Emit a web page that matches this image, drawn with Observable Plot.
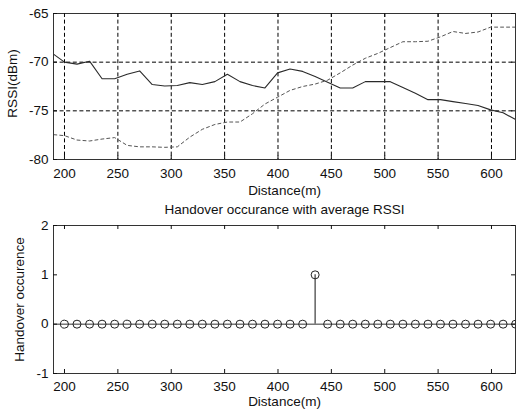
<!DOCTYPE html>
<html><head><meta charset="utf-8">
<script src="https://cdn.jsdelivr.net/npm/d3@7"></script>
<script src="https://cdn.jsdelivr.net/npm/@observablehq/plot@0.6"></script>
<style>
html,body{margin:0;padding:0;background:#fff;}
#chart svg{display:block;}
</style></head><body><div id="chart"></div>
<script>
// ---- data ----
const distance = [190, 200, 211.7, 223.5, 235.2, 247, 258.7, 270.4, 282.2, 293.9, 305.7, 317.4, 329.1, 340.9, 352.6, 364.4, 376.1, 387.8, 399.6, 411.3, 423.1, 434.8, 446.5, 458.3, 470, 481.8, 493.5, 505.2, 517, 528.7, 540.5, 552.2, 563.9, 575.7, 587.4, 599.2, 610.9, 622.6];
const rssiSolid = [-69.2, -70.0, -70.2, -69.9, -71.7, -71.7, -71.25, -70.9, -72.3, -72.45, -72.4, -72.1, -72.3, -72.0, -71.25, -72.0, -72.4, -72.65, -71.1, -70.7, -70.95, -71.47, -72.07, -72.65, -72.65, -72.0, -72.0, -72.0, -72.6, -73.2, -73.85, -73.85, -74.05, -74.25, -74.45, -74.9, -75.2, -75.9];
const rssiDashed = [-77.45, -77.55, -78.0, -78.1, -77.9, -77.75, -78.55, -78.7, -78.7, -78.75, -78.7, -77.7, -76.9, -76.4, -76.15, -76.15, -75.3, -74.3, -73.6, -72.9, -72.5, -72.25, -71.85, -71.1, -70.3, -69.6, -69.1, -68.5, -67.9, -67.9, -67.85, -67.4, -66.85, -67.05, -66.9, -66.4, -66.4, -66.4];
const stemDistance = [200, 211.7, 223.5, 235.2, 247, 258.7, 270.4, 282.2, 293.9, 305.7, 317.4, 329.1, 340.9, 352.6, 364.4, 376.1, 387.8, 399.6, 411.3, 423.1, 434.8, 446.5, 458.3, 470, 481.8, 493.5, 505.2, 517, 528.7, 540.5, 552.2, 563.9, 575.7, 587.4, 599.2, 610.9, 622.6];
const handover = [0,0,0,0,0,0,0,0,0,0,0,0,0,0,0,0,0,0,0,0,1,0,0,0,0,0,0,0,0,0,0,0,0,0,0,0,0];
const xTicks = [200, 250, 300, 350, 400, 450, 500, 550, 600];
const yTicksTop = [-80, -75, -70, -65];
const yTicksBottom = [-1, 0, 1, 2];
const xLabel = "Distance(m)";
const yLabelTop = "RSSI(dBm)";
const yLabelBottom = "Handover occurence";
const titleBottom = "Handover occurance with average RSSI";
const xDomain = [189.7, 622.5];

// ---- tables ----
const rssi = distance.map((d, i) => ({d, a: rssiSolid[i], b: rssiDashed[i]}));
const stems = stemDistance.map((d, i) => ({d, v: handover[i]}));

const W = 516;
const font = {fontFamily: "'Liberation Sans', Arial, sans-serif", fontSize: "13.5px", color: "#111", background: "#fff"};
const fmt = d => String(d);

function insideTicks(yTicks, plotW, plotH) {
  const t = 4;
  return [
    Plot.tickX(xTicks, {x: d => d, insetTop: plotH - t, stroke: "#111"}),
    Plot.tickX(xTicks, {x: d => d, insetBottom: plotH - t, stroke: "#111"}),
    Plot.tickY(yTicks, {y: d => d, insetRight: plotW - t, stroke: "#111"}),
    Plot.tickY(yTicks, {y: d => d, insetLeft: plotW - t, stroke: "#111"})
  ];
}

// ---- top chart ----
const topH = 200, topMT = 13, topMB = 41, ml = 53, mr = 1;
const topPlot = Plot.plot({
  width: W, height: topH,
  marginLeft: ml, marginRight: mr, marginTop: topMT, marginBottom: topMB,
  style: font,
  x: {domain: xDomain},
  y: {domain: [-80, -65]},
  marks: [
    Plot.gridX(xTicks, {stroke: "#000", strokeOpacity: 1, strokeDasharray: "4,2.6"}),
    Plot.gridY(yTicksTop, {stroke: "#000", strokeOpacity: 1, strokeDasharray: "4,2.6"}),
    Plot.line(rssi, {x: "d", y: "a", stroke: "#2a2a2a", strokeWidth: 1.1}),
    Plot.line(rssi, {x: "d", y: "b", stroke: "#555", strokeWidth: 1, strokeDasharray: "3,3"}),
    Plot.frame({stroke: "#333"}),
    ...insideTicks(yTicksTop, W - ml - mr, topH - topMT - topMB),
    Plot.axisX(xTicks, {tickSize: 0, tickPadding: 9, tickFormat: fmt, label: null}),
    Plot.axisY(yTicksTop, {tickSize: 0, tickPadding: 5, tickFormat: fmt, label: null}),
    Plot.text([xLabel], {frameAnchor: "bottom", dy: 31, lineAnchor: "middle", textAnchor: "middle", fill: "#111"}),
    Plot.text([yLabelTop], {frameAnchor: "left", dx: -41, dy: -3, rotate: -90, textAnchor: "middle", lineAnchor: "middle", fill: "#111"})
  ]
});

// ---- bottom chart ----
const botH = 213, botMT = 25, botMB = 40;
const botPlot = Plot.plot({
  width: W, height: botH,
  marginLeft: ml, marginRight: mr, marginTop: botMT, marginBottom: botMB,
  style: font,
  x: {domain: xDomain},
  y: {domain: [-1, 2]},
  marks: [
    Plot.ruleY([0], {stroke: "#333"}),
    Plot.ruleX(stems, {x: "d", y1: 0, y2: "v", stroke: "#555", strokeWidth: 1.4}),
    Plot.dot(stems, {x: "d", y: "v", r: 4, stroke: "#222", fill: "none", strokeWidth: 1}),
    Plot.frame({stroke: "#333"}),
    ...insideTicks(yTicksBottom, W - ml - mr, botH - botMT - botMB),
    Plot.axisX(xTicks, {tickSize: 0, tickPadding: 8, tickFormat: fmt, label: null}),
    Plot.axisY(yTicksBottom, {tickSize: 0, tickPadding: 5, tickFormat: fmt, label: null}),
    Plot.text([titleBottom], {frameAnchor: "top", dy: -16, lineAnchor: "middle", textAnchor: "middle", fill: "#111"}),
    Plot.text([xLabel], {frameAnchor: "bottom", dy: 28, lineAnchor: "middle", textAnchor: "middle", fill: "#111"}),
    Plot.text([yLabelBottom], {frameAnchor: "left", dx: -34, rotate: -90, textAnchor: "middle", lineAnchor: "middle", fill: "#111"})
  ]
});

const chart = document.getElementById("chart");
chart.appendChild(topPlot);
chart.appendChild(botPlot);
</script>
</body></html>
